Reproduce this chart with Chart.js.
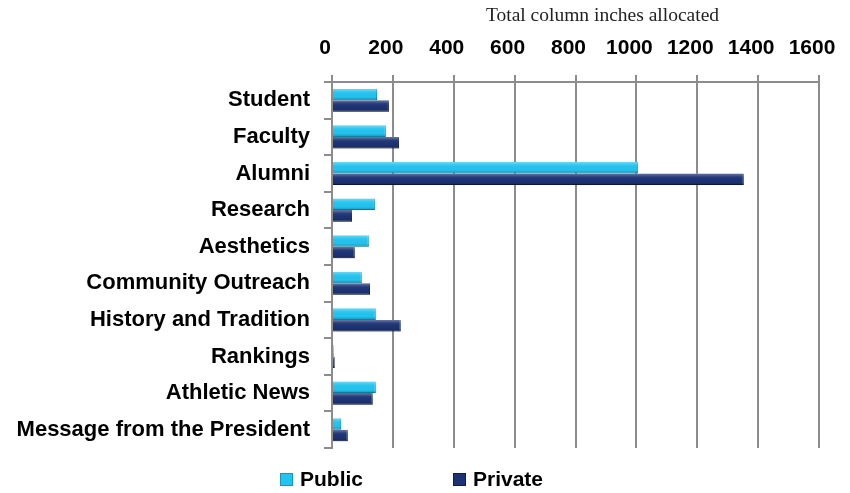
<!DOCTYPE html>
<html>
<head>
<meta charset="utf-8">
<script src="https://cdn.jsdelivr.net/npm/chart.js@4"></script>
<style>
  html, body { margin: 0; padding: 0; background: #ffffff; }
  #wrap { width: 850px; height: 493px; position: relative; }
</style>
</head>
<body>
<div id="wrap"><canvas id="c" width="850" height="493"></canvas></div>
<script>
const categories = ["Student", "Faculty", "Alumni", "Research", "Aesthetics", "Community Outreach", "History and Tradition", "Rankings", "Athletic News", "Message from the President"];
const publicValues = [148, 177, 1005, 141, 121, 98, 144, 6, 144, 30];
const privateValues = [187, 220, 1353, 66, 75, 125, 226, 9, 134, 52];
const seriesNames = ["Public", "Private"];
const xTicks = [0, 200, 400, 600, 800, 1000, 1200, 1400, 1600];
const axisTitle = "Total column inches allocated";

const publicColor = "#22C3EF";
const privateColor = "#1C3273";
const gridColor = "#8C8C8C";

const titlePlugin = {
  id: "topTitle",
  afterDraw(chart) {
    const ctx = chart.ctx;
    const a = chart.chartArea;
    ctx.save();
    ctx.font = "19.5px 'Liberation Serif'";
    ctx.fillStyle = "#222222";
    ctx.textAlign = "center";
    ctx.textBaseline = "alphabetic";
    ctx.fillText(axisTitle, (a.left + a.right) / 2 + 27, 21);
    ctx.restore();
  }
};

const shadePlugin = {
  id: "barShade",
  afterDatasetsDraw(chart) {
    const ctx = chart.ctx;
    ctx.save();
    chart.data.datasets.forEach((ds, i) => {
      chart.getDatasetMeta(i).data.forEach(el => {
        const top = el.y - el.height / 2;
        const w = el.x - el.base;
        if (w <= 0) return;
        const g = ctx.createLinearGradient(0, top, 0, top + el.height);
        g.addColorStop(0, "rgba(255,255,255,0.35)");
        g.addColorStop(0.3, "rgba(255,255,255,0.05)");
        g.addColorStop(0.7, "rgba(0,0,0,0)");
        g.addColorStop(1, "rgba(0,0,0,0.25)");
        ctx.fillStyle = g;
        ctx.fillRect(el.base, top, w, el.height);
      });
    });
    ctx.restore();
  }
};

const legendPlugin = {
  id: "bottomLegend",
  afterDraw(chart) {
    const ctx = chart.ctx;
    const starts = [280, 453];
    ctx.save();
    ctx.font = "bold 21px 'Liberation Sans'";
    ctx.textBaseline = "middle";
    ctx.textAlign = "left";
    chart.data.datasets.forEach((ds, i) => {
      const x = starts[i];
      const y = 479.5;
      ctx.fillStyle = ds.backgroundColor;
      ctx.fillRect(x, y - 6.5, 13, 13);
      ctx.strokeStyle = ds.borderColor;
      ctx.lineWidth = 1;
      ctx.strokeRect(x + 0.5, y - 6, 12, 12);
      ctx.fillStyle = "#000000";
      ctx.fillText(ds.label, x + 20, y + 1);
    });
    ctx.restore();
  }
};

new Chart(document.getElementById("c"), {
  type: "bar",
  data: {
    labels: categories,
    datasets: [
      { label: seriesNames[0], data: publicValues, backgroundColor: publicColor, borderColor: "#1497C0", borderWidth: { right: 1, top: 0, bottom: 1, left: 0 }, borderSkipped: false, categoryPercentage: 0.63, barPercentage: 1.0 },
      { label: seriesNames[1], data: privateValues, backgroundColor: privateColor, borderColor: "#0E1C4A", borderWidth: { right: 1, top: 0, bottom: 1, left: 0 }, borderSkipped: false, categoryPercentage: 0.63, barPercentage: 1.0 }
    ]
  },
  options: {
    indexAxis: "y",
    responsive: false,
    animation: false,
    layout: { padding: { left: 0, right: 31, top: 0, bottom: 45 } },
    plugins: {
      legend: { display: false },
      title: { display: false },
      tooltip: { enabled: false }
    },
    scales: {
      x: {
        position: "top",
        min: 0,
        max: 1600,
        afterBuildTicks(scale) { scale.ticks = xTicks.map(v => ({ value: v })); },
        afterFit(scale) { scale.height = 82; scale.paddingRight = 0; scale.paddingLeft = 0; },
        ticks: {
          font: { family: "'Liberation Sans'", size: 21, weight: "bold" },
          color: "#000000",
          padding: 14,
          labelOffset: -7,
          callback: (v) => String(v)
        },
        grid: { color: gridColor, lineWidth: 2, tickLength: 7, drawTicks: true },
        border: { display: true, color: gridColor, width: 2 }
      },
      y: {
        afterFit(scale) { scale.width = 332; },
        ticks: {
          font: { family: "'Liberation Sans'", size: 22, weight: "bold" },
          color: "#000000",
          padding: 14
        },
        grid: { drawOnChartArea: false, color: gridColor, lineWidth: 2, tickLength: 8, offset: true },
        border: { display: true, color: gridColor, width: 2 }
      }
    }
  },
  plugins: [shadePlugin, titlePlugin, legendPlugin]
});
</script>
</body>
</html>
